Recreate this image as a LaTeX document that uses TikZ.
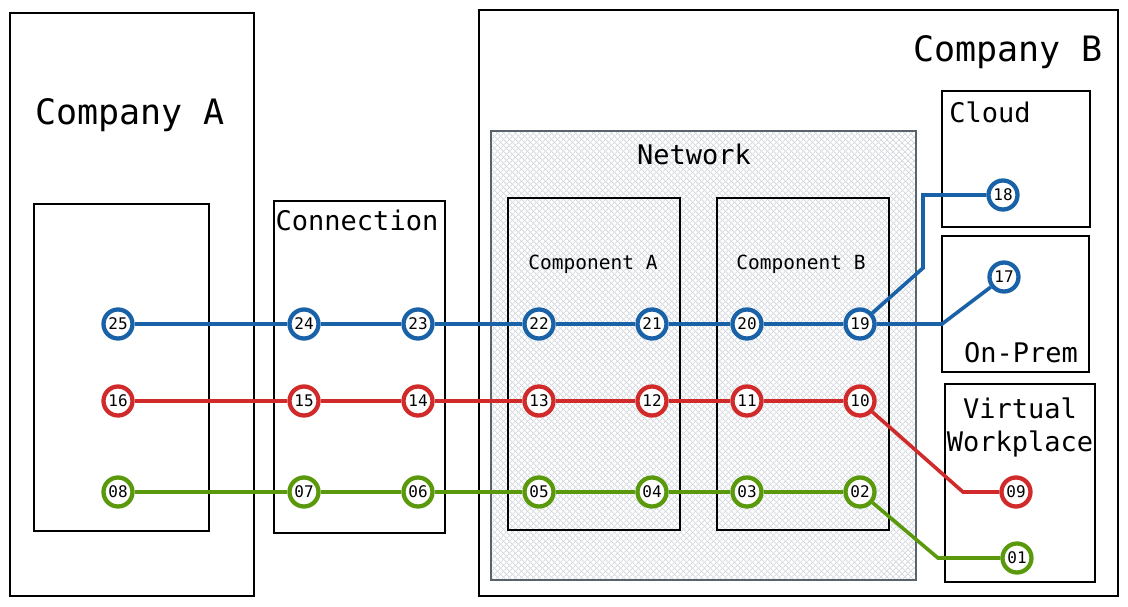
\documentclass[tikz,border=0pt]{standalone}
\usepackage{fontspec}
\newfontfamily\monof{DejaVu Sans Mono}
\usetikzlibrary{patterns.meta}
\definecolor{lblue}{RGB}{26,98,168}
\definecolor{lred}{RGB}{208,42,42}
\definecolor{lgreen}{RGB}{90,152,12}
\definecolor{hatch}{RGB}{212,216,223}
\definecolor{netborder}{RGB}{90,98,108}
\tikzset{
  box/.style={draw=black, line width=1.1pt},
  stop/.style={circle, draw=#1, fill=white, line width=4.3pt, minimum size=29pt, inner sep=0pt, font=\monof\fontsize{16}{16}\selectfont},
  big/.style={font=\monof\fontsize{35}{40}\selectfont},
  mid/.style={font=\monof\fontsize{27}{33}\selectfont, align=center},
  small/.style={font=\monof\fontsize{19.5}{22}\selectfont},
  wire/.style={line width=3.6pt, draw=#1},
}
\begin{document}
\begin{tikzpicture}[x=1pt,y=-1pt]
\useasboundingbox (0,0) rectangle (1128,606);
% boxes
\draw[box] (10,13) rectangle (254,596);
\draw[box] (34,204) rectangle (209,531);
\draw[box] (274,201) rectangle (445,533);
\draw[box, line width=1.4pt] (479,10) rectangle (1118,596);
\fill[white] (491,131) rectangle (916,580);
\fill[pattern={Lines[angle=45,distance=4pt,line width=0.9pt]}, pattern color=hatch] (491,131) rectangle (916,580);
\fill[pattern={Lines[angle=-45,distance=4pt,line width=0.9pt]}, pattern color=hatch] (491,131) rectangle (916,580);
\draw[draw=netborder, line width=1.6pt] (491,131) rectangle (916,580);
\draw[box] (508,198) rectangle (680,530);
\draw[box] (717,198) rectangle (889,530);
\draw[box] (942,91) rectangle (1090,227);
\draw[box] (942,236) rectangle (1089,372);
\draw[box] (945,384) rectangle (1095,582);
% titles
\node[big] (tA) at (130,115) {Company A};
\node[big] (tB) at (1008,52) {Company B};
\node[mid] (tNet) at (694,154) {Network};
\node[mid] (tCon) at (357,220) {Connection};
\node[small] (tCA) at (593,264) {Component A};
\node[small] (tCB) at (801,264) {Component B};
\node[mid] (tCl) at (990,112) {Cloud};
\node[mid] (tOP) at (1021,353) {On-Prem};
\node[mid] (tVW) at (1020,427) {Virtual\\Workplace};
% stops
\foreach \n/\x in {25/118,24/304,23/418,22/539,21/652,20/747,19/860}
  \node[stop=lblue] (s\n) at (\x,324) {\n};
\node[stop=lblue] (s18) at (1003,195) {18};
\node[stop=lblue] (s17) at (1004,277) {17};
\foreach \n/\x in {16/118,15/304,14/418,13/539,12/652,11/747,10/860}
  \node[stop=lred] (s\n) at (\x,401) {\n};
\node[stop=lred] (s09) at (1016,492) {09};
\foreach \n/\x in {08/118,07/304,06/418,05/539,04/652,03/747,02/860}
  \node[stop=lgreen] (s\n) at (\x,492) {\n};
\node[stop=lgreen] (s01) at (1017,558) {01};
% bend points
\coordinate (b1) at (923,268);
\coordinate (b2) at (923,195);
\coordinate (b3) at (942,324);
\coordinate (r1) at (963,492);
\coordinate (g1) at (938,558);
% wires
\draw[wire=lblue] (s25) -- (s24);
\draw[wire=lblue] (s24) -- (s23);
\draw[wire=lblue] (s23) -- (s22);
\draw[wire=lblue] (s22) -- (s21);
\draw[wire=lblue] (s21) -- (s20);
\draw[wire=lblue] (s20) -- (s19);
\draw[wire=lblue] (s19) -- (b3) -- (s17);
\draw[wire=lblue] (s19) -- (b1) -- (b2) -- (s18);
\draw[wire=lred] (s16) -- (s15);
\draw[wire=lred] (s15) -- (s14);
\draw[wire=lred] (s14) -- (s13);
\draw[wire=lred] (s13) -- (s12);
\draw[wire=lred] (s12) -- (s11);
\draw[wire=lred] (s11) -- (s10);
\draw[wire=lred] (s10) -- (r1) -- (s09);
\draw[wire=lgreen] (s08) -- (s07);
\draw[wire=lgreen] (s07) -- (s06);
\draw[wire=lgreen] (s06) -- (s05);
\draw[wire=lgreen] (s05) -- (s04);
\draw[wire=lgreen] (s04) -- (s03);
\draw[wire=lgreen] (s03) -- (s02);
\draw[wire=lgreen] (s02) -- (g1) -- (s01);
\end{tikzpicture}
\end{document}
